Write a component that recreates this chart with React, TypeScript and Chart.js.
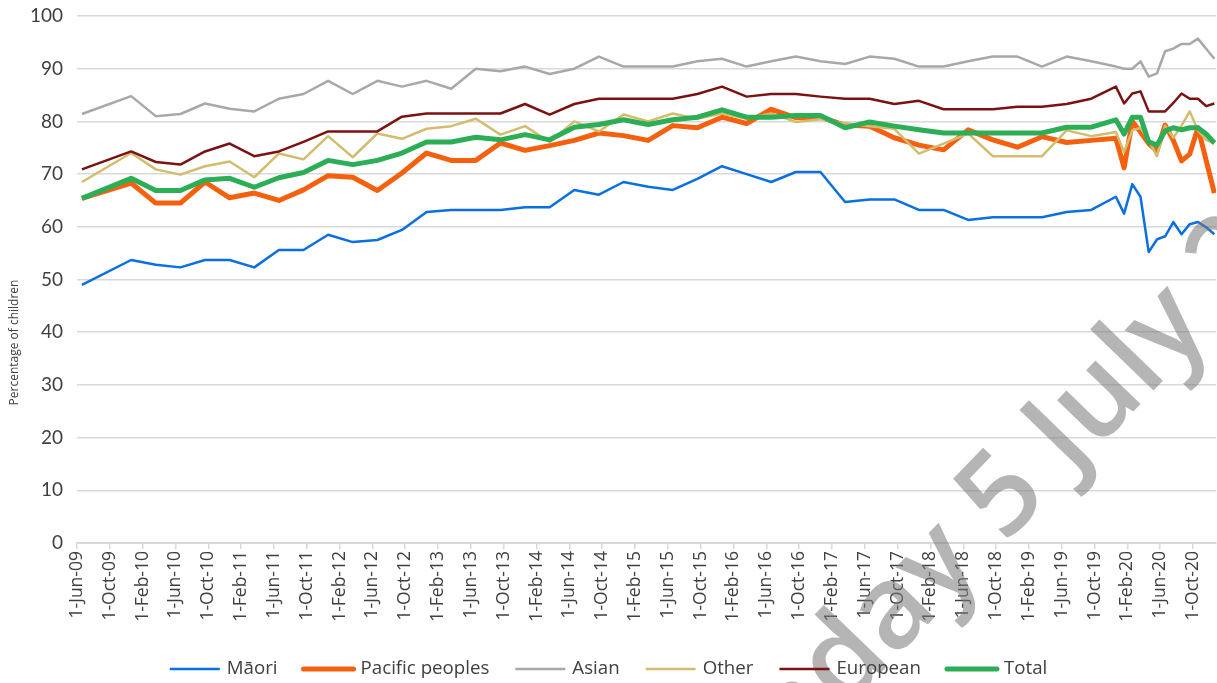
import React, { useEffect, useRef } from "react";
import { Chart, registerables } from "chart.js";

Chart.register(...registerables);

const periods = [
  "Jun-09", "Dec-09",
  "Mar-10", "Jun-10", "Sep-10", "Dec-10",
  "Mar-11", "Jun-11", "Sep-11", "Dec-11",
  "Mar-12", "Jun-12", "Sep-12", "Dec-12",
  "Mar-13", "Jun-13", "Sep-13", "Dec-13",
  "Mar-14", "Jun-14", "Sep-14", "Dec-14",
  "Mar-15", "Jun-15", "Sep-15", "Dec-15",
  "Mar-16", "Jun-16", "Sep-16", "Dec-16",
  "Mar-17", "Jun-17", "Sep-17", "Dec-17",
  "Mar-18", "Jun-18", "Sep-18", "Dec-18",
  "Mar-19", "Jun-19", "Sep-19", "Dec-19",
  "Jan-20", "Feb-20", "Mar-20", "Apr-20", "May-20", "Jun-20",
  "Jul-20", "Aug-20", "Sep-20", "Oct-20", "Nov-20", "Dec-20",
];

const maori = [
  49.0, 53.7,
  52.8, 52.3, 53.7, 53.7,
  52.3, 55.6, 55.6, 58.5,
  57.1, 57.5, 59.4, 62.8,
  63.2, 63.2, 63.2, 63.7,
  63.7, 67.0, 66.1, 68.5,
  67.6, 67.0, 69.1, 71.5,
  70.0, 68.5, 70.4, 70.4,
  64.7, 65.2, 65.2, 63.2,
  63.2, 61.3, 61.8, 61.8,
  61.8, 62.8, 63.2, 65.7,
  62.5, 68.1, 65.7, 55.2, 57.6, 58.2,
  60.9, 58.6, 60.5, 60.9, 59.9, 58.6,
];

const pacific = [
  65.4, 68.3,
  64.5, 64.5, 68.5, 65.5,
  66.4, 65.0, 67.0, 69.7,
  69.4, 66.9, 70.2, 74.0,
  72.6, 72.6, 75.9, 74.5,
  75.4, 76.4, 77.8, 77.3,
  76.4, 79.2, 78.8, 80.8,
  79.6, 82.3, 80.7, 80.8,
  79.3, 79.1, 76.9, 75.5,
  74.6, 78.4, 76.5, 75.1,
  77.1, 76.0, 76.4, 76.8,
  71.2, 80.0, 78.0, 75.8, 74.4, 79.3,
  76.4, 72.5, 73.8, 78.8, 72.6, 66.4,
];

const asian = [
  81.4, 84.8,
  81.0, 81.4, 83.4, 82.4,
  81.9, 84.3, 85.2, 87.7,
  85.2, 87.7, 86.6, 87.7,
  86.2, 90.0, 89.5, 90.4,
  89.0, 90.0, 92.3, 90.4,
  90.4, 90.4, 91.4, 91.9,
  90.4, 91.4, 92.3, 91.4,
  90.9, 92.3, 91.9, 90.4,
  90.4, 91.4, 92.3, 92.3,
  90.4, 92.3, 91.4, 90.4,
  90.0, 90.0, 91.4, 88.5, 89.1, 93.3,
  93.8, 94.7, 94.7, 95.7, 93.8, 91.9,
];

const other = [
  68.5, 74.0,
  70.9, 69.9, 71.5, 72.4,
  69.4, 73.9, 72.8, 77.2,
  73.2, 77.7, 76.7, 78.6,
  79.1, 80.5, 77.5, 79.1,
  76.1, 80.0, 78.1, 81.3,
  80.0, 81.5, 80.5, 81.5,
  80.5, 81.5, 79.9, 80.4,
  79.6, 79.1, 78.6, 73.9,
  75.8, 77.7, 73.4, 73.4,
  73.4, 78.3, 77.2, 78.0,
  74.2, 78.3, 78.8, 76.4, 73.4, 79.2,
  76.9, 79.2, 81.9, 78.3, 76.5, 75.8,
];

const european = [
  70.9, 74.3,
  72.3, 71.8, 74.3, 75.8,
  73.4, 74.3, 76.1, 78.1,
  78.1, 78.1, 80.9, 81.5,
  81.5, 81.5, 81.5, 83.3,
  81.3, 83.3, 84.3, 84.3,
  84.3, 84.3, 85.2, 86.6,
  84.7, 85.2, 85.2, 84.7,
  84.3, 84.3, 83.3, 83.9,
  82.3, 82.3, 82.3, 82.8,
  82.8, 83.3, 84.3, 86.6,
  83.4, 85.3, 85.7, 81.9, 81.9, 81.9,
  83.5, 85.3, 84.3, 84.3, 82.9, 83.4,
];

const total = [
  65.4, 69.2,
  66.9, 66.9, 68.9, 69.2,
  67.5, 69.3, 70.3, 72.6,
  71.8, 72.6, 74.0, 76.1,
  76.1, 77.0, 76.5, 77.5,
  76.5, 78.9, 79.4, 80.3,
  79.4, 80.3, 80.8, 82.2,
  80.8, 80.8, 81.1, 81.1,
  78.8, 79.9, 79.1, 78.4,
  77.8, 77.8, 77.8, 77.8,
  77.8, 78.9, 78.9, 80.3,
  77.6, 80.8, 80.8, 76.1, 75.5, 78.2,
  78.8, 78.4, 78.8, 78.8, 77.6, 75.9,
];

const xTickLabels = [
  "1-Jun-09", "1-Oct-09", "1-Feb-10", "1-Jun-10", "1-Oct-10", "1-Feb-11",
  "1-Jun-11", "1-Oct-11", "1-Feb-12", "1-Jun-12", "1-Oct-12", "1-Feb-13",
  "1-Jun-13", "1-Oct-13", "1-Feb-14", "1-Jun-14", "1-Oct-14", "1-Feb-15",
  "1-Jun-15", "1-Oct-15", "1-Feb-16", "1-Jun-16", "1-Oct-16", "1-Feb-17",
  "1-Jun-17", "1-Oct-17", "1-Feb-18", "1-Jun-18", "1-Oct-18", "1-Feb-19",
  "1-Jun-19", "1-Oct-19", "1-Feb-20", "1-Jun-20", "1-Oct-20",
];

const seriesLabels = ["Māori", "Pacific peoples", "Asian", "Other", "European", "Total"];
const yTitle = "Percentage of children";
const watermarkText = "Monday 5 July 2021";

const MONTHS = ["Jan", "Feb", "Mar", "Apr", "May", "Jun", "Jul", "Aug", "Sep", "Oct", "Nov", "Dec"];
// months elapsed since the start of June 2009
function monthIndex(p: string): number {
  const [m, y] = p.split("-");
  return (2000 + Number(y) - 2009) * 12 + MONTHS.indexOf(m) - 5;
}
const REPORT_DAY = 0.6; // fraction of the month at which each observation is dated

function toPoints(values: number[]) {
  return periods.map((p, i) => ({ x: monthIndex(p) + REPORT_DAY, y: values[i] }));
}

const FONT_SANS = '"Open Sans", "Noto Sans", sans-serif';
const TEXT_COLOR = "#404040";

const yTitlePlugin = {
  id: "yTitle",
  afterDraw(chart: any) {
    const ctx = chart.ctx;
    ctx.save();
    ctx.translate(15, chart.height / 2 + 1);
    ctx.rotate(-Math.PI / 2);
    ctx.font = `12px ${FONT_SANS}`;
    ctx.fillStyle = TEXT_COLOR;
    ctx.textAlign = "center";
    ctx.textBaseline = "middle";
    ctx.fillText(yTitle, 0, 0);
    ctx.restore();
  },
};

const legendPlugin = {
  id: "lineLegend",
  afterDraw(chart: any) {
    const ctx = chart.ctx;
    const sets = chart.data.datasets;
    ctx.save();
    ctx.font = `18.7px ${FONT_SANS}`;
    const lineLen = 50;
    const textGap = 7;
    const itemGap = 26;
    const widths = sets.map((d: any) => lineLen + textGap + ctx.measureText(d.label).width);
    const totalW = widths.reduce((a: number, b: number) => a + b, 0) + itemGap * (sets.length - 1);
    let x = (chart.width - totalW) / 2;
    const y = 669;
    sets.forEach((d: any, i: number) => {
      ctx.beginPath();
      ctx.strokeStyle = d.borderColor;
      ctx.lineWidth = d.borderWidth;
      ctx.lineCap = d.borderWidth > 3 ? "round" : "butt";
      ctx.moveTo(x, y);
      ctx.lineTo(x + lineLen, y);
      ctx.stroke();
      ctx.fillStyle = TEXT_COLOR;
      ctx.textAlign = "left";
      ctx.textBaseline = "middle";
      ctx.fillText(d.label, x + lineLen + textGap, y);
      x += widths[i] + itemGap;
    });
    ctx.restore();
  },
};

const watermarkPlugin = {
  id: "watermark",
  afterDraw(chart: any) {
    const ctx = chart.ctx;
    ctx.save();
    const size = 116;
    ctx.font = `600 ${size}px ${FONT_SANS}`;
    ctx.fillStyle = "rgba(120,120,120,0.55)";
    ctx.textBaseline = "alphabetic";
    ctx.textAlign = "left";
    const ang = (-46 * Math.PI) / 180;
    const before = ctx.measureText("Monday ").width;
    const w5 = ctx.measureText("5").width;
    const cap = size * 0.714;
    const tx = 998;
    const ty = 492;
    const lx = before + w5 / 2;
    const ly = -cap / 2;
    const ox = tx - (lx * Math.cos(ang) - ly * Math.sin(ang));
    const oy = ty - (lx * Math.sin(ang) + ly * Math.cos(ang));
    ctx.translate(ox, oy);
    ctx.rotate(ang);
    ctx.fillText(watermarkText, 0, 0);
    ctx.restore();
  },
};

export default function App() {
  const ref = useRef<HTMLCanvasElement | null>(null);

  useEffect(() => {
    if (!ref.current) return;
    const colors = ["#0a6fe0", "#f5600f", "#a8a8a8", "#d2bd6e", "#7a1212", "#2bae55"];
    const widths = [2.5, 5, 2.5, 2.5, 2.5, 5];
    const values = [maori, pacific, asian, other, european, total];
    const datasets = values.map((v, i) => ({
      label: seriesLabels[i],
      data: toPoints(v),
      borderColor: colors[i],
      backgroundColor: colors[i],
      borderWidth: widths[i],
      borderJoinStyle: "round" as const,
      pointRadius: 0,
      pointHoverRadius: 0,
      tension: 0,
      fill: false,
      order: -i,
    }));

    const chart = new Chart(ref.current, {
      type: "line",
      data: { datasets },
      options: {
        animation: false,
        responsive: true,
        maintainAspectRatio: false,
        parsing: false as any,
        layout: { padding: { top: 16, right: 1, left: 0, bottom: 45 } },
        plugins: {
          legend: { display: false },
          tooltip: { enabled: false },
        },
        scales: {
          x: {
            type: "linear",
            min: 0,
            max: 138.8,
            afterBuildTicks: (scale: any) => {
              scale.ticks = xTickLabels.map((l) => ({ value: monthIndex(l.slice(2)) }));
            },
            afterFit: (scale: any) => {
              scale.height = 95;
            },
            ticks: {
              autoSkip: false,
              minRotation: 90,
              maxRotation: 90,
              padding: 2,
              color: TEXT_COLOR,
              font: { family: FONT_SANS, size: 17.5 },
              callback: (_v: any, i: number) => xTickLabels[i],
            },
            grid: {
              drawOnChartArea: false,
              color: "#d9d9d9",
              lineWidth: 1.5,
              tickLength: 6,
            },
            border: { color: "#d9d9d9", width: 2 },
          },
          y: {
            min: 0,
            max: 100,
            afterFit: (scale: any) => {
              scale.width = 77;
            },
            ticks: {
              stepSize: 10,
              padding: 0,
              color: TEXT_COLOR,
              font: { family: '"Lato", "Open Sans", sans-serif', size: 19 },
            },
            grid: {
              color: "#d9d9d9",
              lineWidth: 1.5,
              drawTicks: true,
              tickLength: 14,
              tickColor: "rgba(0,0,0,0)",
            },
            border: { display: false },
          },
        },
      },
      plugins: [yTitlePlugin, watermarkPlugin, legendPlugin],
    });
    return () => chart.destroy();
  }, []);

  return (
    <div style={{ position: "fixed", left: 0, top: 0, width: 1217, height: 683, background: "#fff" }}>
      <canvas ref={ref} />
    </div>
  );
}
